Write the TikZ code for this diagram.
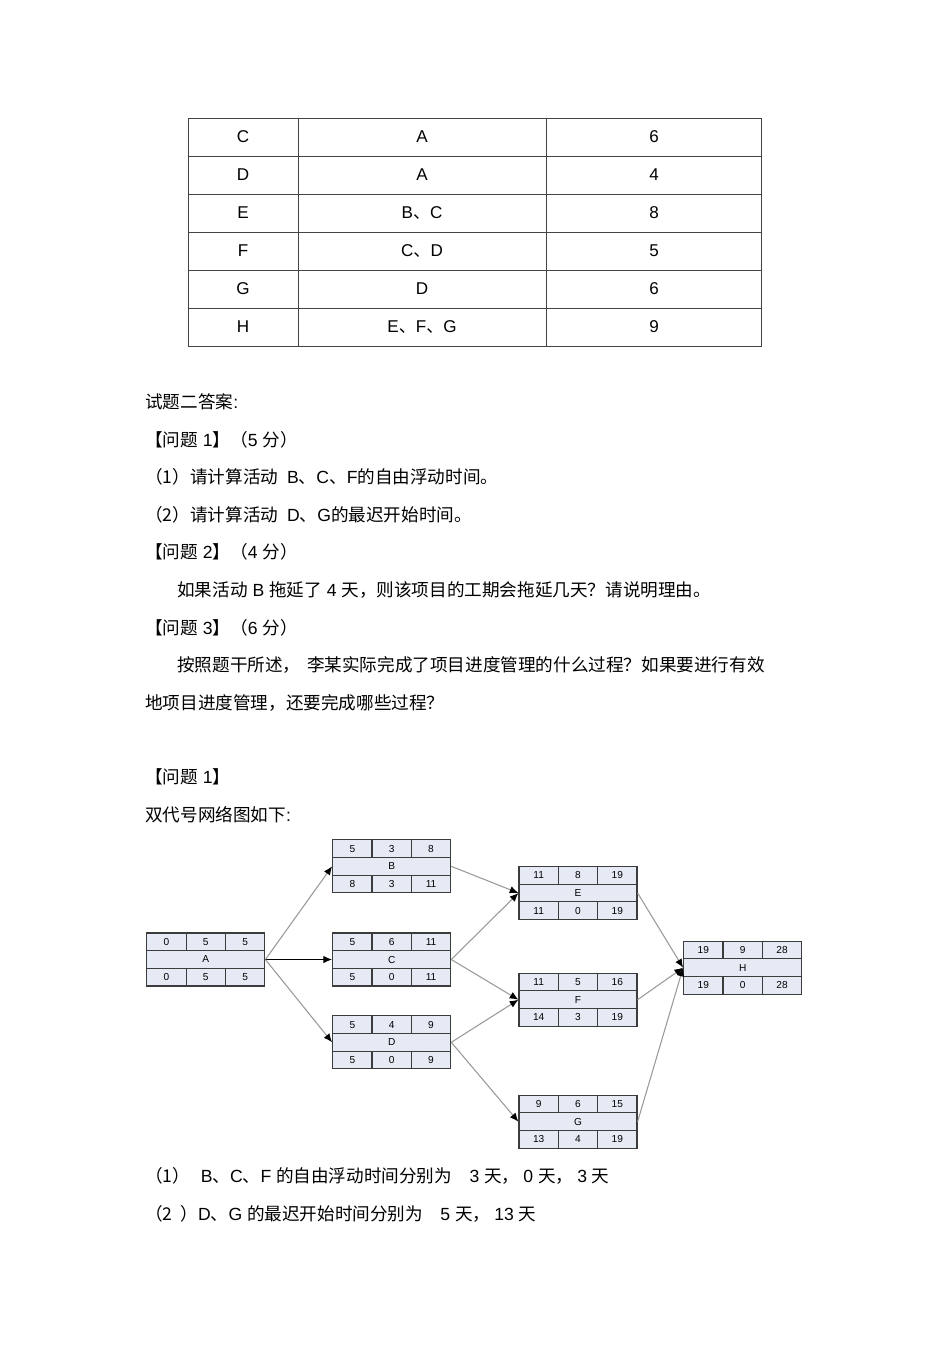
\documentclass[tikz,border=0pt]{standalone}
\usepackage{fontspec}
\setmainfont{Liberation Sans}
\newfontfamily\cjk{Noto Sans CJK SC}
\usetikzlibrary{arrows.meta}
\newcommand\zh[1]{{\cjk #1}}
\definecolor{boxfill}{HTML}{E6EAF5}
\definecolor{boxdraw}{HTML}{3C3C3C}
\definecolor{conncol}{HTML}{9A9A9A}
\definecolor{tabline}{HTML}{444444}
\tikzset{
  actbox/.style={draw=boxdraw, fill=boxfill, line width=0.9pt, minimum width=88.5pt, minimum height=39.75pt, inner sep=0pt},
  boxline/.style={draw=boxdraw, line width=0.9pt},
  numtxt/.style={inner sep=0pt, font=\fontsize{7.6}{9}\selectfont},
  body/.style={inner sep=0pt, anchor=base west, font=\fontsize{13.2}{15}\selectfont},
  celltxt/.style={inner sep=0pt, font=\fontsize{12.8}{15}\selectfont},
  tab/.style={draw=tabline, line width=0.65pt},
  conn/.style={draw=conncol, line width=0.8pt, -{Latex[length=6.5pt,width=5.5pt,color=black]}},
  critconn/.style={draw=black, line width=0.8pt, -{Latex[length=6.5pt,width=5.5pt,color=black]}},
}
% #1 name, #2 x centre, #3 y centre, #4 label, #5 top a/b/c, #6 bottom d/e/f
\newcommand\actbox[6]{%
  \node[actbox] (#1) at (#2,#3) {};
  \draw[boxline] ({#2-59},{#3-8.83}) -- ({#2+59},{#3-8.83});
  \draw[boxline] ({#2-59},{#3+8.83}) -- ({#2+59},{#3+8.83});
  \draw[boxline] ({#2-19.67},{#3-26.5}) -- ({#2-19.67},{#3-8.83});
  \draw[boxline] ({#2+19.67},{#3-26.5}) -- ({#2+19.67},{#3-8.83});
  \draw[boxline] ({#2-19.67},{#3+8.83}) -- ({#2-19.67},{#3+26.5});
  \draw[boxline] ({#2+19.67},{#3+8.83}) -- ({#2+19.67},{#3+26.5});
  \node[numtxt] (#1-l) at (#2,#3) {#4};
  \foreach \p/\q/\r in {#5} {
    \node[numtxt] (#1-t1) at ({#2-39.33},{#3-17.67}) {\p};
    \node[numtxt] (#1-t2) at ({#2},{#3-17.67}) {\q};
    \node[numtxt] (#1-t3) at ({#2+39.33},{#3-17.67}) {\r};
  }
  \foreach \p/\q/\r in {#6} {
    \node[numtxt] (#1-b1) at ({#2-39.33},{#3+17.67}) {\p};
    \node[numtxt] (#1-b2) at ({#2},{#3+17.67}) {\q};
    \node[numtxt] (#1-b3) at ({#2+39.33},{#3+17.67}) {\r};
  }
}
\begin{document}
\begin{tikzpicture}[x=0.75pt,y=-0.75pt]
\useasboundingbox (0,0) rectangle (950,1345);
\fill[white] (0,0) rectangle (950,1345);

% ---- table ----
\draw[tab] (188,118) rectangle (761,346);
\foreach \yy in {156,194,232,270,308} {\draw[tab] (188,\yy) -- (761,\yy);}
\draw[tab] (298,118) -- (298,346);
\draw[tab] (546,118) -- (546,346);
\node[celltxt] (r1a) at (243,137) {C};
\node[celltxt] (r1b) at (422,137) {A};
\node[celltxt] (r1c) at (654,137) {6};
\node[celltxt] (r2a) at (243,175) {D};
\node[celltxt] (r2b) at (422,175) {A};
\node[celltxt] (r2c) at (654,175) {4};
\node[celltxt] (r3a) at (243,213) {E};
\node[celltxt] (r3b) at (422,213) {B\zh{、}C};
\node[celltxt] (r3c) at (654,213) {8};
\node[celltxt] (r4a) at (243,251) {F};
\node[celltxt] (r4b) at (422,251) {C\zh{、}D};
\node[celltxt] (r4c) at (654,251) {5};
\node[celltxt] (r5a) at (243,289) {G};
\node[celltxt] (r5b) at (422,289) {D};
\node[celltxt] (r5c) at (654,289) {6};
\node[celltxt] (r6a) at (243,327) {H};
\node[celltxt] (r6b) at (422,327) {E\zh{、}F\zh{、}G};
\node[celltxt] (r6c) at (654,327) {9};

% ---- body text ----
\node[body] (t1) at (145,408) {\zh{试题二答案}:};
\node[body] (t2) at (145,446) {\zh{【问题} 1\zh{】（}5 \zh{分）}};
\node[body] (t3) at (145,483) {\zh{（1）请计算活动}\hspace{3pt} B\zh{、}C\zh{、}F\zh{的自由浮动时间。}};
\node[body] (t4) at (145,521) {\zh{（2）请计算活动}\hspace{3pt} D\zh{、}G\zh{的最迟开始时间。}};
\node[body] (t5) at (145,558) {\zh{【问题} 2\zh{】（}4 \zh{分）}};
\node[body] (t6) at (177,596) {\zh{如果活动} B \zh{拖延了} 4 \zh{天，则该项目的工期会拖延几天？请说明理由。}};
\node[body] (t7) at (145,634) {\zh{【问题} 3\zh{】（}6 \zh{分）}};
\node[body] (t8) at (177,671) {\zh{按照题干所述，}\hspace{5pt}\zh{李某实际完成了项目进度管理的什么过程？如果要进行有效}};
\node[body] (t9) at (145,709) {\zh{地项目进度管理，还要完成哪些过程？}};
\node[body] (t10) at (145,783) {\zh{【问题} 1\zh{】}};
\node[body] (t11) at (145,821) {\zh{双代号网络图如下}:};
\node[body] (t12) at (145,1182) {\zh{（1）}\hspace{8pt}B\zh{、}C\zh{、}F \zh{的自由浮动时间分别为}\hspace{13pt}3 \zh{天，}\hspace{3pt}0 \zh{天，}\hspace{3pt}3 \zh{天}};
\node[body] (t13) at (145,1220) {\zh{（2}\hspace{6pt}\zh{）}D\zh{、}G \zh{的最迟开始时间分别为}\hspace{13pt}5 \zh{天，}\hspace{3pt}13 \zh{天}};

% ---- network ----
\actbox{A}{205.8}{959.5}{A}{0/5/5}{0/5/5}
\actbox{B}{391.7}{866.3}{B}{5/3/8}{8/3/11}
\actbox{C}{391.7}{959.5}{C}{5/6/11}{5/0/11}
\actbox{D}{391.7}{1042.3}{D}{5/4/9}{5/0/9}
\actbox{E}{578}{893}{E}{11/8/19}{11/0/19}
\actbox{F}{578}{999.7}{F}{11/5/16}{14/3/19}
\actbox{G}{578}{1121.7}{G}{9/6/15}{13/4/19}
\actbox{H}{742.7}{967.7}{H}{19/9/28}{19/0/28}

\draw[conn] (A.east) -- (B.west);
\draw[critconn] (A.east) -- (C.west);
\draw[conn] (A.east) -- (D.west);
\draw[conn] (B.east) -- (E.west);
\draw[conn] (C.east) -- (E.west);
\draw[conn] (C.east) -- (F.west);
\draw[conn] (D.east) -- (F.west);
\draw[conn] (D.east) -- (G.west);
\draw[conn] (E.east) -- (H.west);
\draw[conn] (F.east) -- (H.west);
\draw[conn] (G.east) -- (H.west);
\end{tikzpicture}
\end{document}
